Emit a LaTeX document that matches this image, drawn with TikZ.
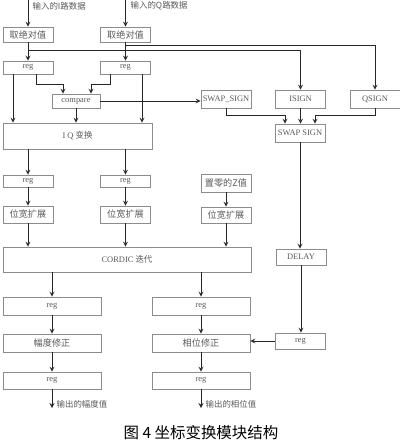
\documentclass[tikz,border=0pt]{standalone}
\usepackage{fontspec}
\setmainfont{Liberation Serif}
\newfontfamily\cjk{Noto Sans CJK SC}
\usetikzlibrary{arrows,positioning,calc}

\begin{document}
\begin{tikzpicture}[
x=0.025cm, y=-0.025cm,
font=\fontsize{6}{7}\selectfont,
blk/.style={draw=black!45,line width=0.4pt,text=black!65,inner sep=0pt},
col/.style={blk,minimum width=1.25cm},
wide/.style={blk,minimum width=2.45cm},
zh/.style={font=\cjk\fontsize{6.5}{7.5}\selectfont},
arr/.style={->,>=stealth,line width=0.6pt,draw=black!85},
lab/.style={anchor=west,inner sep=1pt,text=black!65,font=\cjk\fontsize{6}{7}\selectfont}]
    \useasboundingbox (0,0) rectangle (400,443);

    % inputs
    \coordinate (inI) at (28,0);
    \coordinate (inQ) at (125.5,0);
    \node[lab] (inIlab) at (31,6) {输入的I路数据};
    \node[lab] (inQlab) at (129,6) {输入的Q路数据};

    \node[col,zh,minimum height=0.375cm] (absI) at (28,34.5) {取绝对值};
    \node[col,zh,minimum height=0.375cm] (absQ) at (125.5,34.5) {取绝对值};
    \node[col,minimum height=0.33cm] (regI) at (28,67.5) {reg};
    \node[col,minimum height=0.33cm] (regQ) at (125.5,67.5) {reg};
    \node[blk,minimum width=1.2cm,minimum height=0.35cm] (cmp) at (76,101) {compare};
    \node[blk,minimum width=3.725cm,minimum height=0.65cm] (iq) at (77.5,136) {I Q {\cjk 变换}};

    % sign path
    \node[col,minimum height=0.45cm] (swapA) at (226,99) {SWAP\_SIGN};
    \node[col,minimum height=0.45cm] (isign) at (300.5,99) {ISIGN};
    \node[col,minimum height=0.45cm] (qsign) at (375,99) {QSIGN};
    \node[col,minimum height=0.45cm] (swapB) at (300,133) {SWAP SIGN};
    \node[col,minimum height=0.4cm] (delay) at (301,257) {DELAY};
    \node[col,minimum height=0.4cm] (regD) at (300.5,341) {reg};

    \node[col,minimum height=0.3cm] (regA) at (28,181) {reg};
    \node[col,minimum height=0.3cm] (regB) at (125.5,181) {reg};
    \node[col,zh,minimum height=0.45cm] (zeroZ) at (226,183) {置零的Z值};
    \node[col,zh,minimum height=0.425cm] (extA) at (28,214.5) {位宽扩展};
    \node[col,zh,minimum height=0.425cm] (extB) at (125.5,214.5) {位宽扩展};
    \node[col,zh,minimum height=0.4cm] (extC) at (226,215) {位宽扩展};
    \node[blk,minimum width=6.2cm,minimum height=0.625cm] (cordic) at (127,259.5) {CORDIC {\cjk 迭代}};

    \node[wide,minimum height=0.45cm] (regM) at (52,306) {reg};
    \node[wide,minimum height=0.45cm] (regP) at (201,306) {reg};
    \node[wide,zh,minimum height=0.45cm] (ampfix) at (52,343) {幅度修正};
    \node[wide,zh,minimum height=0.45cm] (phfix) at (201,343) {相位修正};
    \node[wide,minimum height=0.425cm] (regM2) at (52,380.5) {reg};
    \node[wide,minimum height=0.425cm] (regP2) at (201,380.5) {reg};

    \coordinate (outM) at (52,408);
    \coordinate (outP) at (201,408);
    \node[lab] (outMlab) at (55,404) {输出的幅度值};
    \node[lab] (outPlab) at (204,404) {输出的相位值};

    % connectors
    \draw[arr] (inI) -- (absI);
    \draw[arr] (inQ) -- (absQ);
    \draw[arr] (absI) -- (regI);
    \draw[arr] (absQ) -- (regQ);
    \coordinate (tapI) at (28,50);
    \coordinate (tapQ) at (125.5,45);
    \draw[arr] (tapI) -| (isign.north);
    \draw[arr] (tapQ) -| (qsign.north);

    \draw[arr] ($(regI.south)+(-15,0)$) coordinate (r1) -- (r1 |- iq.north);
    \draw[arr] ($(regQ.south)+(16.5,0)$) coordinate (r2) -- (r2 |- iq.north);
    \draw[arr] ($(regI.south)+(8,0)$) -- ++(0,10) -| ($(cmp.north)+(-13,0)$);
    \draw[arr] ($(regQ.south)+(-15.5,0)$) -- ++(0,10) -| ($(cmp.north)+(15,0)$);
    \draw[arr] (cmp.south) -- (cmp.south |- iq.north);
    \draw[arr] (cmp.east) -- (cmp.east -| swapA.west);

    \draw[arr] (swapA.south) -- ++(0,7) -| ($(swapB.north)+(-15,0)$);
    \draw[arr] (isign.south) -- (isign.south |- swapB.north);
    \draw[arr] (qsign.south) -- ++(0,7) -| ($(swapB.north)+(15,0)$);
    \draw[arr] (swapB.south) -- (swapB.south |- delay.north);
    \draw[arr] (delay.south) -- (delay.south |- regD.north);
    \draw[arr] (regD.west) -- (regD.west -| phfix.east);

    \draw[arr] (regA.north |- iq.south) -- (regA.north);
    \draw[arr] (regB.north |- iq.south) -- (regB.north);
    \draw[arr] (regA) -- (extA);
    \draw[arr] (regB) -- (extB);
    \draw[arr] (zeroZ) -- (extC);
    \draw[arr] (extA.south) -- (extA.south |- cordic.north);
    \draw[arr] (extB.south) -- (extB.south |- cordic.north);
    \draw[arr] (extC.south) -- (extC.south |- cordic.north);

    \draw[arr] (regM.north |- cordic.south) -- (regM.north);
    \draw[arr] (regP.north |- cordic.south) -- (regP.north);
    \draw[arr] (regM) -- (ampfix);
    \draw[arr] (regP) -- (phfix);
    \draw[arr] (ampfix) -- (regM2);
    \draw[arr] (phfix) -- (regP2);
    \draw[arr] (regM2) -- (outM);
    \draw[arr] (regP2) -- (outP);

    \node[font=\cjk\fontsize{11}{13}\selectfont] (cap) at (201,433) {图\ 4\ 坐标变换模块结构};
\end{tikzpicture}
\end{document}
